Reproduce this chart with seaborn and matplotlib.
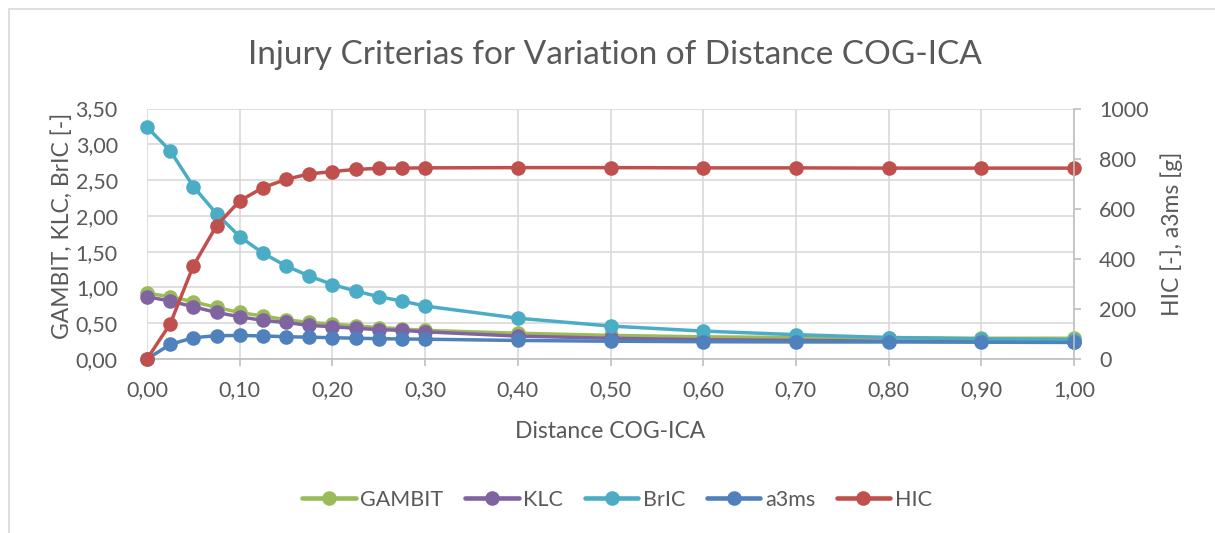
import matplotlib
matplotlib.use("Agg")
import matplotlib.pyplot as plt
import seaborn as sns
from matplotlib.ticker import FuncFormatter, MultipleLocator
from matplotlib.lines import Line2D
from matplotlib.patches import Rectangle

# ---- data ----
distance = [0.0, 0.025, 0.05, 0.075, 0.1, 0.125, 0.15, 0.175, 0.2, 0.225, 0.25,
            0.275, 0.3, 0.4, 0.5, 0.6, 0.7, 0.8, 0.9, 1.0]
gambit = [0.92, 0.87, 0.80, 0.72, 0.65, 0.60, 0.55, 0.51, 0.49, 0.46, 0.44,
          0.42, 0.40, 0.36, 0.33, 0.31, 0.30, 0.30, 0.29, 0.29]
klc = [0.87, 0.81, 0.73, 0.65, 0.59, 0.54, 0.51, 0.47, 0.45, 0.43, 0.41,
       0.40, 0.38, 0.32, 0.29, 0.27, 0.26, 0.25, 0.245, 0.24]
bric = [3.24, 2.91, 2.41, 2.03, 1.71, 1.48, 1.30, 1.16, 1.04, 0.95, 0.87,
        0.81, 0.74, 0.57, 0.46, 0.39, 0.34, 0.30, 0.28, 0.27]
a3ms = [0, 58, 85, 93, 94, 92, 89, 87, 85, 83, 81,
        80, 79, 74, 71, 69, 68, 68, 67, 66]
hic = [0, 140, 372, 532, 631, 684, 717, 739, 748, 757, 761,
       762, 763, 764, 764, 763, 763, 762, 762, 762]

left_series = [("GAMBIT", gambit, "#9BBB59"), ("KLC", klc, "#8064A2"), ("BrIC", bric, "#4BACC6")]
right_series = [("a3ms", a3ms, "#4F81BD"), ("HIC", hic, "#C0504D")]

title = "Injury Criterias for Variation of Distance COG-ICA"
xlabel = "Distance COG-ICA"
ylabel_left = "GAMBIT, KLC, BrIC [-]"
ylabel_right = "HIC [-], a3ms [g]"

# ---- style ----
sns.set_theme(style="white")
plt.rcParams["font.family"] = ["Lato", "DejaVu Sans"]
txt = "#595959"
grid_c = "#d9d9d9"
axis_c = "#bfbfbf"

W, H = 1215, 533
fig = plt.figure(figsize=(W / 100, H / 100), dpi=100)
fig.patch.set_facecolor("white")

# chart border
fig.add_artist(Rectangle((9 / W, -0.05), 1.2, 1.05 - 9 / H, transform=fig.transFigure,
                         fill=False, edgecolor="#d9d9d9", lw=1.2))

l, r, t, b = 147, 1074, 108.5, 359
ax = fig.add_axes([l / W, 1 - b / H, (r - l) / W, (b - t) / H])
ax2 = ax.twinx()

lw = 2.5
ms = 10.5
for name, vals, col in left_series:
    sns.lineplot(x=distance, y=vals, ax=ax, color=col, marker="o", markersize=ms,
                 linewidth=lw, markeredgewidth=0, sort=False, clip_on=False, label=name,
                 legend=False)
for name, vals, col in right_series:
    sns.lineplot(x=distance, y=vals, ax=ax2, color=col, marker="o", markersize=ms,
                 linewidth=lw, markeredgewidth=0, sort=False, clip_on=False, label=name,
                 legend=False)

ax.set_xlim(0, 1.0)
ax.set_ylim(0, 3.5)
ax2.set_ylim(0, 1000)
ax.xaxis.set_major_locator(MultipleLocator(0.1))
ax.yaxis.set_major_locator(MultipleLocator(0.5))
ax2.yaxis.set_major_locator(MultipleLocator(200))

comma2 = FuncFormatter(lambda v, p: f"{v:.2f}".replace(".", ","))
ax.xaxis.set_major_formatter(comma2)
ax.yaxis.set_major_formatter(comma2)
ax2.yaxis.set_major_formatter(FuncFormatter(lambda v, p: f"{int(round(v))}"))

ax.grid(True, color=grid_c, lw=1.2)
ax2.grid(False)
for s in ["left", "top", "right"]:
    ax.spines[s].set_visible(False)
for s in ["left", "top", "bottom"]:
    ax2.spines[s].set_visible(False)
ax.spines["bottom"].set_color(axis_c)
ax.spines["bottom"].set_linewidth(1.2)
ax2.spines["right"].set_color(axis_c)
ax2.spines["right"].set_linewidth(1.2)

fs = 15.5
ax.tick_params(axis="x", bottom=True, length=5, width=1.2, color=axis_c, labelsize=fs,
               labelcolor=txt, pad=10)
ax.tick_params(axis="y", left=False, labelsize=fs, labelcolor=txt, pad=15)
ax2.tick_params(axis="y", right=True, length=5, width=1.2, color=axis_c, labelsize=fs,
                labelcolor=txt, pad=13)

lab_fs = 16.5
ax.set_xlabel(xlabel, fontsize=lab_fs, color=txt)
ax.xaxis.set_label_coords(0.5, (359 - 431) / 250.5)
ax.xaxis.label.set_va("center")
ax.set_ylabel(ylabel_left, fontsize=lab_fs, color=txt)
ax.yaxis.set_label_coords((62 - 147) / 927, 0.53)
ax.yaxis.label.set_va("center")
ax2.set_ylabel(ylabel_right, fontsize=lab_fs, color=txt)
ax2.yaxis.set_label_coords((1172 - 147) / 927, 0.5)
ax2.yaxis.label.set_va("center")

fig.text(615 / W, 1 - 55 / H, title, ha="center", va="center", fontsize=24, color=txt)

handles = []
labels = []
for name, vals, col in left_series + right_series:
    handles.append(Line2D([], [], color=col, lw=lw + 0.8, marker="o", markersize=ms,
                          markeredgewidth=0))
    labels.append(name)
leg = fig.legend(handles, labels, loc="center", bbox_to_anchor=(617 / W, 1 - 500 / H),
                 ncol=5, frameon=False, fontsize=15.5, handlelength=2.5,
                 handletextpad=0.2, columnspacing=1.0)
for tx in leg.get_texts():
    tx.set_color(txt)

fig.savefig("out.png", dpi=100, facecolor="white")
